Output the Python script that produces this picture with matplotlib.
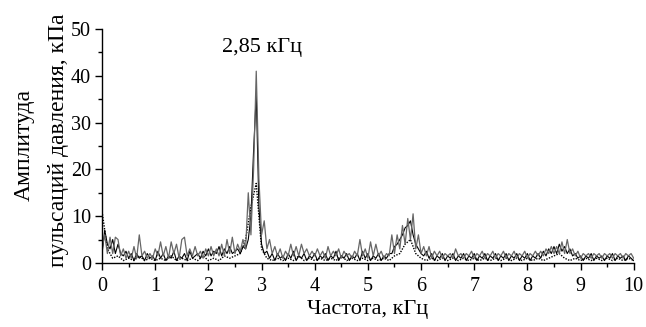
import numpy as np
import matplotlib
matplotlib.use("Agg")
import matplotlib.pyplot as plt
from matplotlib.ticker import MultipleLocator

plt.rcParams["font.family"] = ["Liberation Serif", "DejaVu Serif"]

#### Data ####

# step of the two solid spectra, kHz
step_solid = 0.05
# step of the dotted spectrum, kHz
step_dotted = 0.1

# gray solid spectrum, kPa (0 ... 10 kHz)
gray = [
    3, 6, 2, 5.5, 2, 5.5, 5, 1.5, 3, 1,
    2.5, 1, 3.5, 1, 6, 1.5, 2.5, 1, 2, 1,
    3, 1.5, 4.5, 1.5, 3.5, 1, 4.5, 2, 4, 1,
    5, 5.5, 1.5, 3, 1.5, 3.5, 1.5, 2.5, 1, 3,
    1.5, 3.5, 1.5, 3, 1.5, 4, 1.5, 5, 2, 5.5,
    2, 4, 2.5, 5, 3, 15, 6, 20, 41, 18,
    6, 9, 3, 5, 2, 3.5, 1.5, 3, 1, 2.5,
    1.5, 4, 1.5, 3.5, 1.5, 4, 2, 3, 1.5, 2.5,
    1.5, 3, 1.5, 2.5, 1, 3.5, 1.5, 2.5, 1.5, 3,
    1, 2.5, 1.5, 2, 1, 2.5, 1.5, 5, 1.5, 3,
    1, 4.5, 1.5, 4, 1.5, 2.5, 1, 2, 1.5, 6,
    2, 6, 3, 8, 4, 9.5, 5, 10.5, 3, 6,
    2, 3.5, 1.5, 3.5, 1, 2.5, 1.5, 2.5, 1, 2,
    1.5, 2, 1, 3, 1.5, 2, 1, 2, 1.5, 2.5,
    1, 2, 1.5, 2.5, 1, 2, 1.5, 2.5, 1, 2,
    1.5, 2.5, 1, 2, 1.5, 2.5, 1, 2, 1.5, 2.5,
    1, 2, 1.5, 2.5, 1.5, 2.5, 1.5, 3, 2, 3.5,
    2, 3.5, 2, 4.5, 2, 5, 2, 3, 1.5, 2.5,
    1, 2, 1.5, 2, 1, 2, 1.5, 2, 1, 2,
    1.5, 2, 1, 2, 1.5, 2, 1, 2, 1.5, 2,
    1,
]

# black solid spectrum, kPa (0 ... 10 kHz)
black = [
    2, 7, 4, 3, 5, 2, 4, 2, 1.5, 2.5,
    1, 2, 0.5, 2, 1, 1.5, 0.5, 2, 1, 1.5,
    0.5, 2.5, 1, 2, 0.5, 1.5, 1, 2.5, 0.5, 1.5,
    1, 2, 0.5, 2.5, 1, 1.5, 2, 1, 2.5, 1.5,
    3, 1.5, 2.5, 2, 3.5, 1.5, 3, 2, 3.5, 2,
    2.5, 3, 2, 3.5, 3, 5, 10, 24, 36, 12,
    4, 2, 2.5, 1, 2, 0.5, 2, 1, 1.5, 0.5,
    2, 1, 2.5, 0.5, 1.5, 1, 2, 0.5, 1.5, 1,
    2, 0.5, 1.5, 1, 2, 0.5, 1.5, 1, 2.5, 0.5,
    1.5, 1, 2, 0.5, 1.5, 1, 2, 0.5, 2.5, 1,
    2, 0.5, 1.5, 1, 2, 0.5, 1.5, 1, 2, 2,
    3.5, 4, 5, 6, 7.5, 8, 9, 6, 4, 3,
    2, 1.5, 2.5, 1, 2, 0.5, 1.5, 1, 2, 0.5,
    1.5, 1, 2, 0.5, 1.5, 1, 2, 0.5, 1.5, 1,
    2, 0.5, 1.5, 1, 2, 0.5, 1.5, 1, 2, 0.5,
    1.5, 1, 2, 0.5, 1.5, 1, 2, 0.5, 1.5, 1,
    2, 0.5, 1.5, 1, 2, 1, 2.5, 1.5, 3, 2,
    3.5, 2, 4, 2.5, 3.5, 2, 3, 1.5, 2, 1,
    1.5, 0.5, 1.5, 1, 2, 0.5, 1.5, 1, 1.5, 0.5,
    1.5, 1, 2, 0.5, 1.5, 1, 1.5, 0.5, 1.5, 1,
    0.5,
]

# dotted spectrum, kPa (0 ... 10 kHz)
dotted = [
    11, 3, 1, 1.5, 0.5, 1, 0.5, 1.5, 0.5, 1,
    0.5, 1, 0.5, 1.5, 0.5, 1, 0.5, 1, 0.5, 1.5,
    0.5, 1, 0.5, 1.5, 1, 1.5, 2, 5, 12, 17,
    3, 1, 0.5, 1, 0.5, 1, 0.5, 1.5, 0.5, 1,
    0.5, 1, 0.5, 1, 0.5, 1.5, 0.5, 1, 0.5, 1,
    0.5, 1, 0.5, 1, 0.5, 1.5, 2, 4, 5, 2,
    1, 0.5, 1, 0.5, 1, 0.5, 1, 0.5, 1, 0.5,
    1, 0.5, 1, 0.5, 1, 0.5, 1, 0.5, 1, 0.5,
    1, 0.5, 1, 0.5, 1, 1.5, 2, 1, 0.5, 1,
    0.5, 1, 0.5, 1, 0.5, 1, 0.5, 1, 0.5, 1,
    0.5,
]

peak_label = "2,85 кГц"
peak_label_x = 3.0
peak_label_y = 46

x_label = "Частота, кГц"
y_label_1 = "Амплитуда"
y_label_2 = "пульсаций давления, кПа"

#### Plot ####

freq_solid = np.arange(len(gray)) * step_solid
freq_black = np.arange(len(black)) * step_solid
freq_dotted = np.arange(len(dotted)) * step_dotted

fig = plt.figure(figsize=(6.46, 3.27), dpi=100)
ax = fig.add_axes([0.158, 0.196, 0.823, 0.715])

ax.plot(freq_dotted, dotted, color="black", linestyle=(0, (1, 1)), linewidth=1.0)
ax.plot(freq_black, black, color="black", linewidth=0.8)
ax.plot(freq_solid, gray, color="#666666", linewidth=0.9)

ax.set_xlim(0, 10)
ax.set_ylim(0, 50)

ax.spines["top"].set_visible(False)
ax.spines["right"].set_visible(False)
ax.spines["left"].set_linewidth(1.0)
ax.spines["bottom"].set_linewidth(1.0)

ax.xaxis.set_major_locator(MultipleLocator(1))
ax.xaxis.set_minor_locator(MultipleLocator(0.5))
ax.yaxis.set_major_locator(MultipleLocator(10))
ax.yaxis.set_minor_locator(MultipleLocator(5))
ax.tick_params(which="major", direction="out", length=5, width=1.0, labelsize=14.5)
ax.tick_params(axis="x", which="major", pad=5)
ax.tick_params(axis="y", which="major", pad=3)
ax.tick_params(which="minor", direction="out", length=3, width=1.0)

ax.set_xlabel(x_label, fontsize=16, labelpad=3)

# two-line y label, the lines are not centred on the same point in the original
fig.text(0.037, 0.557, y_label_1, fontsize=17, rotation=90, ha="center", va="center")
fig.text(0.090, 0.572, y_label_2, fontsize=17, rotation=90, ha="center", va="center")

ax.text(peak_label_x, peak_label_y, peak_label, fontsize=16, ha="center", va="center")

fig.savefig("out.png", dpi=100)
